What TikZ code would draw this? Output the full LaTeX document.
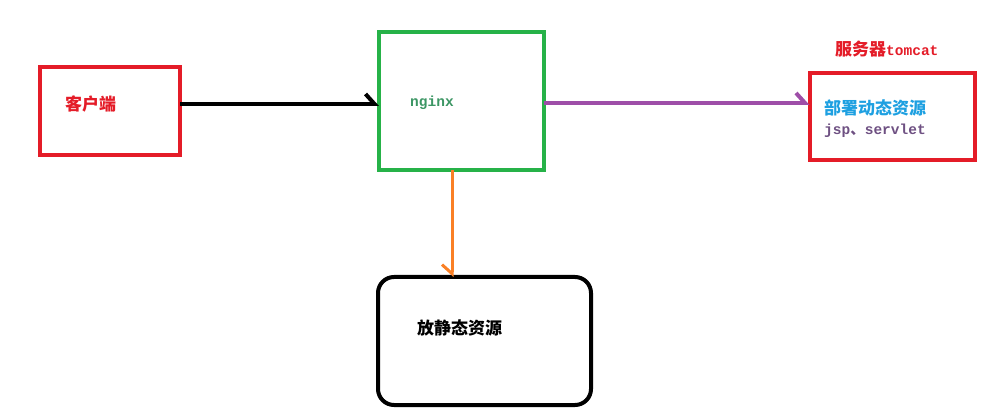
\documentclass[tikz,border=0pt]{standalone}
\usepackage{fontspec}
\newfontfamily\cjk{Noto Sans CJK SC}
\newfontfamily\mono{Liberation Mono}
\usetikzlibrary{arrows.meta}
\definecolor{cred}{RGB}{228,28,40}
\definecolor{cgreen}{RGB}{38,178,72}
\definecolor{cpurple}{RGB}{158,78,168}
\definecolor{corange}{RGB}{250,128,38}
\definecolor{cblue}{RGB}{30,160,225}
\definecolor{cgray}{RGB}{110,80,130}
\definecolor{cteal}{RGB}{60,150,100}
\tikzset{
  box/.style={draw, line width=4pt, minimum width=#1, inner sep=0pt, outer sep=0pt},
  lbl/.style={anchor=west, inner sep=0pt, font=\cjk\bfseries\fontsize{17}{17}\selectfont},
  mlbl/.style={anchor=west, inner sep=0pt, font=\mono\bfseries\fontsize{14.5}{14.5}\selectfont},
  harp/.style={-{Straight Barb[harpoon,length=9pt,width=20pt]}},
  harpr/.style={-{Straight Barb[harpoon,swap,length=9pt,width=20pt]}}
}
\begin{document}
\begin{tikzpicture}[x=1pt,y=-1pt]
\useasboundingbox (0,0) rectangle (1008,419);
\node[box=140pt, minimum height=88pt, draw=cred] (client) at (110,111) {};
\node[box=165pt, minimum height=138pt, draw=cgreen] (nginx) at (461.5,101) {};
\node[box=165pt, minimum height=87pt, draw=cred] (tomcat) at (892,117) {};
\node[box=213pt, minimum height=128pt, draw=black, rounded corners=16pt] (static) at (484.5,341) {};
\node[lbl, text=cred] (tclient) at (65,104) {客户端};
\node[mlbl, text=cteal] (tnginx) at (410,103) {nginx};
\node[lbl, text=cred] (ttomcat) at (835,49) {服务器\mono\bfseries\fontsize{14.5}{14.5}\selectfont tomcat};
\node[lbl, text=cblue] (tdyn) at (824,108) {部署动态资源};
\node[mlbl, text=cgray] (tjsp) at (824,131) {jsp{\cjk 、}servlet};
\node[lbl, text=black] (tstatic) at (417,328) {放静态资源};
\draw[harp, line width=4pt, black] (client.east |- 0,104) -- (nginx.west |- 0,104);
\draw[harp, line width=4pt, cpurple] (nginx.east |- 0,103) -- (tomcat.west |- 0,103);
\draw[harpr, line width=3pt, corange] (nginx.south -| 452,0) -- (static.north -| 452,0);
\end{tikzpicture}
\end{document}
